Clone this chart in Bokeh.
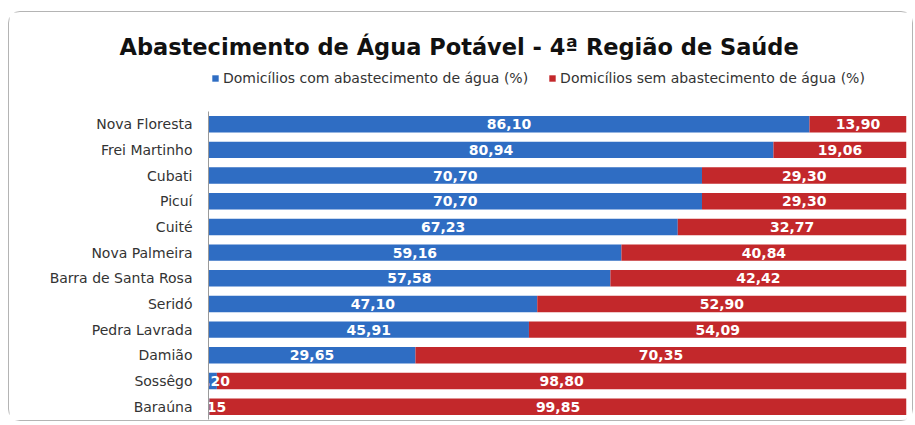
from bokeh.plotting import figure
from bokeh.models import ColumnDataSource, Legend, LegendItem, Range1d, FixedTicker
from bokeh.core.properties import value
from bokeh.embed import file_html
from bokeh.resources import INLINE

cities = ["Nova Floresta", "Frei Martinho", "Cubati", "Picuí", "Cuité", "Nova Palmeira",
          "Barra de Santa Rosa", "Seridó", "Pedra Lavrada", "Damião", "Sossêgo", "Baraúna"]
com_agua = [86.10, 80.94, 70.70, 70.70, 67.23, 59.16, 57.58, 47.10, 45.91, 29.65, 1.20, 0.15]
sem_agua = [13.90, 19.06, 29.30, 29.30, 32.77, 40.84, 42.42, 52.90, 54.09, 70.35, 98.80, 99.85]
series_names = ["Domicílios com abastecimento de água (%)", "Domicílios sem abastecimento de água (%)"]
title_text = "Abastecimento de Água Potável - 4ª Região de Saúde"

BLUE = "#2F6DC3"
RED = "#C3282B"
FONT = "DejaVu Sans"

def fmt(v):
    return f"{v:.2f}".replace(".", ",")

n = len(cities)
pos = [n - 1 - i for i in range(n)]  # first city on top

src = ColumnDataSource(dict(
    y=pos,
    com=com_agua,
    sem=sem_agua,
    com_mid=[c / 2 for c in com_agua],
    sem_mid=[c + s / 2 for c, s in zip(com_agua, sem_agua)],
    com_lbl=[fmt(v) for v in com_agua],
    sem_lbl=[fmt(v) for v in sem_agua],
))

p = figure(width=905, height=410, output_backend="svg", toolbar_location=None,
           y_range=Range1d(-0.5, 13.52), x_range=Range1d(0, 100),
           min_border_left=199, min_border_right=8, min_border_top=47, min_border_bottom=3)
p.margin = (11, 0, 0, 8)
p.styles = {"border": "1px solid #b4b4b4", "border-radius": "12px"}

r1 = p.hbar(y="y", left=0, right="com", height=0.64, source=src, fill_color=BLUE, line_color=None)
r2 = p.hbar(y="y", left="com", right=100, height=0.64, source=src, fill_color=RED, line_color=None)

p.text(x="com_mid", y="y", text="com_lbl", source=src, text_color="white",
       text_font=value(FONT), text_font_style="bold", text_font_size="14px",
       text_align="center", text_baseline="middle")
p.text(x="sem_mid", y="y", text="sem_lbl", source=src, text_color="white",
       text_font=value(FONT), text_font_style="bold", text_font_size="14px",
       text_align="center", text_baseline="middle")

p.title.text = title_text
p.title.align = "left"
p.title.offset = -89
p.title.standoff = 0
p.title.text_font = FONT
p.title.text_font_size = "22.5px"
p.title.text_font_style = "bold"
p.title.text_color = "#111111"

legend = Legend(items=[LegendItem(label=series_names[0], renderers=[r1]),
                       LegendItem(label=series_names[1], renderers=[r2])],
                orientation="horizontal", location=(3, 333),
                label_text_font=FONT, label_text_font_size="14px", label_text_color="#333333",
                glyph_width=8, glyph_height=8, spacing=20, border_line_color=None,
                background_fill_alpha=0, label_standoff=4, padding=2, margin=0)
p.add_layout(legend, "center")

p.xaxis.visible = False
p.xgrid.visible = False
p.ygrid.visible = False
p.outline_line_color = None
p.yaxis.ticker = FixedTicker(ticks=pos)
p.yaxis.major_label_overrides = {y: c for y, c in zip(pos, cities)}
p.yaxis.bounds = (-0.5, n - 0.5)
p.yaxis.major_tick_line_color = None
p.yaxis.minor_tick_line_color = None
p.yaxis.axis_line_color = "#9a9a9a"
p.yaxis.major_label_text_font = FONT
p.yaxis.major_label_text_font_size = "14px"
p.yaxis.major_label_text_color = "#333333"
p.yaxis.major_label_standoff = 10

open("out.html", "w").write(file_html(p, INLINE))
